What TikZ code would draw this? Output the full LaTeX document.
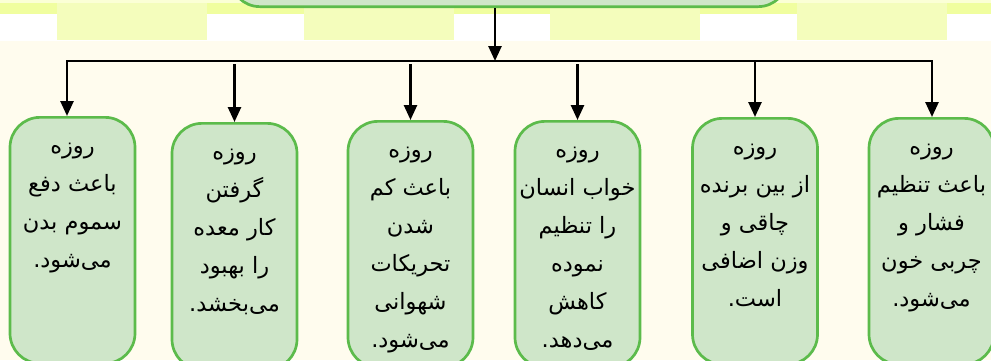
\documentclass[tikz,border=0pt]{standalone}
\usepackage{fontspec}
\newfontfamily\arabicfont[Script=Arabic]{DejaVu Sans}
\TeXXeTstate=1
\usetikzlibrary{arrows.meta}
\definecolor{cream}{HTML}{FFFCEE}
\definecolor{topstrip}{HTML}{F0FE9F}
\definecolor{topline}{HTML}{FBFFD6}
\definecolor{block}{HTML}{F4FDBC}
\definecolor{boxfill}{HTML}{CFE6C9}
\definecolor{boxline}{HTML}{5CBB4B}
\newcommand\rl[1]{\beginR #1\endR}
\begin{document}
\begin{tikzpicture}[x=1pt,y=-1pt,
  box/.style={draw=boxline, fill=boxfill, line width=2.7pt, rounded corners=30pt,
    minimum width=125pt, minimum height=246pt, anchor=north, inner sep=0pt},
  txt/.style={anchor=north, align=center, inner sep=0pt,
    font=\arabicfont\fontsize{22.5}{38}\selectfont},
  arr/.style={line width=2.6pt, -{Triangle[length=15pt,width=13pt]}},
  bar/.style={line width=2.6pt}]
\useasboundingbox (0,0) rectangle (991,360);
\clip (0,0) rectangle (991,360);
% background
\fill[cream] (0,0) rectangle (991,360);
\fill[topstrip] (0,0) rectangle (991,14);
\fill[white] (0,14) rectangle (991,41);
\foreach \x in {57,303.5,550,797} \fill[block] (\x,3) rectangle ++(150,37);
\fill[topline] (0,0) rectangle (991,3);
% top box
\node[box, anchor=south, minimum width=558pt, minimum height=60pt] (top) at (509,8) {};
% children
\node[box] (b1) at (72.5,116) {};
\node[box] (b2) at (234.5,122) {};
\node[box] (b3) at (410.5,120) {};
\node[box] (b4) at (577.5,120) {};
\node[box] (b5) at (755,117) {};
\node[box] (b6) at (931.5,117) {};
% texts
\node[txt] (t1) at ([yshift=-27pt]b1.north) {\rl{روزه}\\\rl{باعث دفع}\\\rl{سموم بدن}\\\rl{می‌شود.}};
\node[txt] (t2) at ([yshift=-27pt]b2.north) {\rl{روزه}\\\rl{گرفتن}\\\rl{کار معده}\\\rl{را بهبود}\\\rl{می‌بخشد.}};
\node[txt] (t3) at ([yshift=-27pt]b3.north) {\rl{روزه}\\\rl{باعث کم}\\\rl{شدن}\\\rl{تحریکات}\\\rl{شهوانی}\\\rl{می‌شود.}};
\node[txt] (t4) at ([yshift=-27pt]b4.north) {\rl{روزه}\\\rl{خواب انسان}\\\rl{را تنظیم}\\\rl{نموده}\\\rl{کاهش}\\\rl{می‌دهد.}};
\node[txt] (t5) at ([yshift=-27pt]b5.north) {\rl{روزه}\\\rl{از بین برنده}\\\rl{چاقی و}\\\rl{وزن اضافی}\\\rl{است.}};
\node[txt] (t6) at ([yshift=-27pt]b6.north) {\rl{روزه}\\\rl{باعث تنظیم}\\\rl{فشار و}\\\rl{چربی خون}\\\rl{می‌شود.}};
% connectors
\coordinate (hub) at (495,61);
\coordinate (barL) at (67,61);
\coordinate (barR) at (932,61);
\draw[arr] (top.south -| hub) -- (hub);
\draw[bar, line cap=rect] (barL) -- (barR);
\draw[arr] (barL) -- (barL |- b1.north);
\draw[arr] ([yshift=-3pt]b2.north |- hub) -- (b2.north);
\draw[arr] ([yshift=-3pt]b3.north |- hub) -- (b3.north);
\draw[arr] ([yshift=-3pt]b4.north |- hub) -- (b4.north);
\draw[arr] (b5.north |- hub) -- (b5.north);
\draw[arr] (barR) -- (barR |- b6.north);
\end{tikzpicture}
\end{document}
